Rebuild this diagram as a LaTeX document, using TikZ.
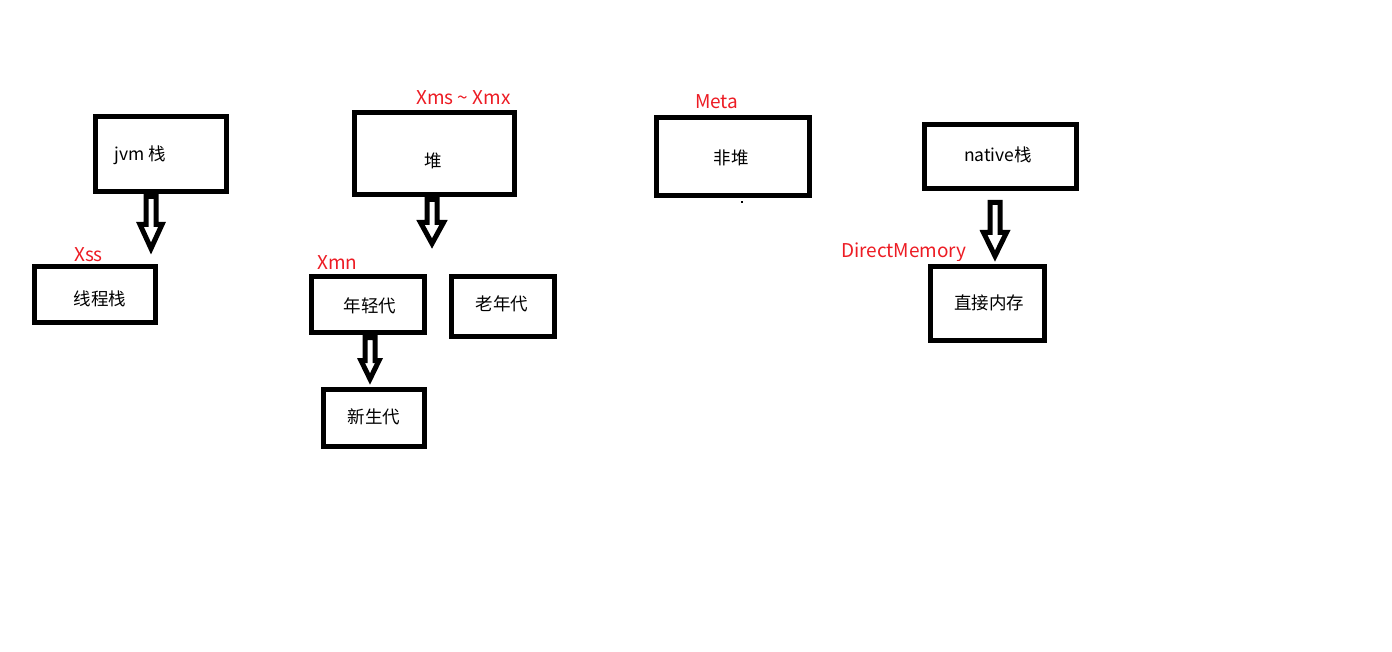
\documentclass[tikz,border=0pt]{standalone}
\usepackage{fontspec}
\setmainfont{Noto Sans CJK SC}
\usetikzlibrary{calc}
\definecolor{paintred}{RGB}{237,28,36}
\tikzset{
  box/.style={draw=black, line width=5pt, inner sep=0pt, outer sep=2.5pt},
  txt/.style={font=\fontsize{17.5}{20}\selectfont, inner sep=0pt},
  redlbl/.style={font=\fontsize{19}{22}\selectfont, text=paintred, inner sep=0pt, anchor=base west},
  blockarr/.style={draw=black, line width=5pt, line join=miter, miter limit=10, fill=white}
}
% #1 start (top centre), #2 shaft length, #3 half head width, #4 head length
\newcommand\blockarrow[4]{%
  \draw[blockarr] (#1) ++(-5,0) -- ++(0,#2) -- ++({5-#3},0) -- ++(#3,#4) -- ++(#3,-#4) -- ++({5-#3},0) -- ++(0,-#2) -- cycle;}
\begin{document}
\begin{tikzpicture}[x=1pt,y=-1pt]
\useasboundingbox[fill=white] (0,0) rectangle (1392,652);

% boxes
\node[box, minimum width=131, minimum height=75] (jvm)    at (161,154)   {};
\node[box, minimum width=121, minimum height=56] (xcz)    at (95,294.5)  {};
\node[box, minimum width=160, minimum height=82] (dui)    at (434.5,153.5) {};
\node[box, minimum width=113, minimum height=56] (nqd)    at (368,304.5) {};
\node[box, minimum width=103, minimum height=60] (lnd)    at (503,306.5) {};
\node[box, minimum width=101, minimum height=57] (xsd)    at (374,418)   {};
\node[box, minimum width=153, minimum height=78] (fd)     at (733,156.5) {};
\node[box, minimum width=152, minimum height=64] (nat)    at (1000.5,156.5) {};
\node[box, minimum width=114, minimum height=74] (zjnc)   at (987.5,303.5) {};

% texts
\node[txt] (jvmt)  at (140,155)  {jvm 栈};
\node[txt] (xczt)  at (100,299)  {线程栈};
\node[txt] (duit)  at (433,161)  {堆};
\node[txt] (nqdt)  at (370,306)  {年轻代};
\node[txt] (lndt)  at (502,304)  {老年代};
\node[txt] (xsdt)  at (374,417)  {新生代};
\node[txt] (fdt)   at (731,158)  {非堆};
\node[txt] (natt)  at (998,155)  {native栈};
\node[txt] (zjnct) at (989,303)  {直接内存};

% red labels
\node[redlbl] (lxss)  at (74,262)  {Xss};
\node[redlbl] (lxms)  at (416,105) {Xms \textasciitilde{} Xmx};
\node[redlbl] (lxmn)  at (317,270) {Xmn};
\node[redlbl] (lmeta) at (695,109) {Meta};
\begin{scope}
  \clip (830,230) rectangle (980,260.5);
  \node[redlbl] (ldm) at (841,258) {DirectMemory};
\end{scope}

% block arrows
\coordinate (a1) at ($(jvm.south)+(-10,2.5)$);
\blockarrow{a1}{28}{11}{24}
\coordinate (a2) at ($(dui.south)+(-2.5,2.5)$);
\blockarrow{a2}{23}{11.5}{21}
\coordinate (a3) at ($(nqd.south)+(2,2.5)$);
\blockarrow{a3}{23}{9}{18.5}
\coordinate (a4) at ($(nat.south)+(-5.5,11.5)$);
\blockarrow{a4}{30}{11.5}{23.5}

% stray dot
\fill[black] (741,201) rectangle (743,203);
\end{tikzpicture}
\end{document}
